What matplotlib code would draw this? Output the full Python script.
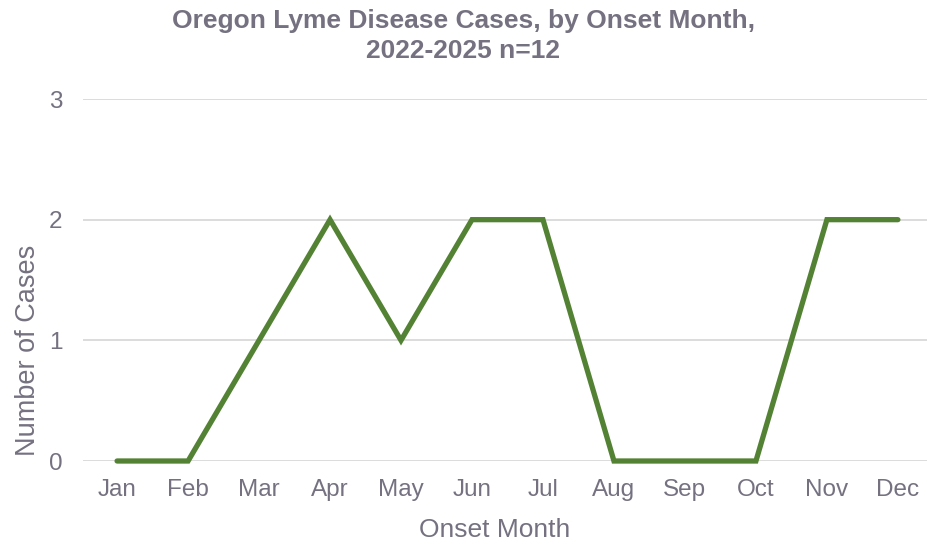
import matplotlib
matplotlib.use("Agg")
import matplotlib.pyplot as plt

months = ['Jan', 'Feb', 'Mar', 'Apr', 'May', 'Jun', 'Jul', 'Aug', 'Sep', 'Oct', 'Nov', 'Dec']
cases = [0, 0, 1, 2, 1, 2, 2, 0, 0, 0, 2, 2]
y_ticks = [0, 1, 2, 3]

text_color = '#757180'
line_color = '#548235'
grid_color = '#d9d9d9'

plt.rcParams['font.family'] = ['Liberation Sans', 'DejaVu Sans']

fig = plt.figure(figsize=(9.27, 5.45), dpi=100)
ax = fig.add_axes([83 / 927, 1 - 461 / 545, 1 - 83 / 927, (461 - 99) / 545])

x = list(range(len(months)))
ax.plot(x, cases, color=line_color, linewidth=3.8, solid_capstyle='round',
        solid_joinstyle='miter', zorder=3, clip_on=False)

ax.set_xlim(-0.48, 11.41)
ax.set_ylim(0, 3)
ax.set_yticks(y_ticks)
ax.set_xticks(x)
ax.set_xticklabels(months)
ax.grid(axis='y', color=grid_color, linewidth=1.3)
ax.set_axisbelow(True)
for s in ax.spines.values():
    s.set_visible(False)
ax.tick_params(axis='both', length=0, labelsize=17.5, labelcolor=text_color)
ax.tick_params(axis='x', pad=13)
ax.tick_params(axis='y', pad=15)

fig.text(0.5, 1 - 36 / 545, 'Oregon Lyme Disease Cases, by Onset Month,\n2022-2025 n=12',
         ha='center', va='center', fontsize=19, fontweight='bold', color=text_color,
         linespacing=1.3)
fig.text(495 / 927, 1 - 530 / 545, 'Onset Month', ha='center', va='center',
         fontsize=19, color=text_color)
fig.text(28 / 927, 1 - 350 / 545, 'Number of Cases', ha='center', va='center',
         fontsize=19.5, color=text_color, rotation=90)

fig.savefig('out.png', dpi=100)
